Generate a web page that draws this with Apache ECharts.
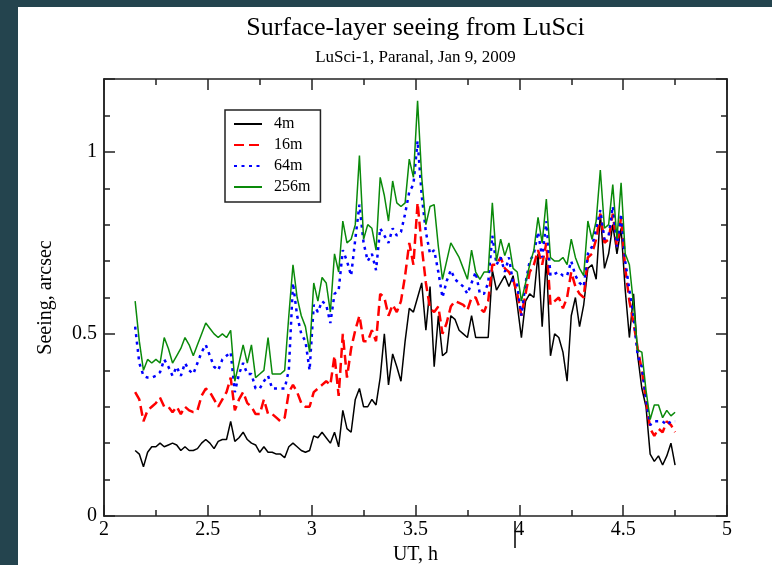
<!DOCTYPE html>
<html>
<head>
<meta charset="utf-8">
<title>Surface-layer seeing from LuSci</title>
<script src="https://cdn.jsdelivr.net/npm/echarts@6/dist/echarts.min.js"></script>
<style>
  html, body { margin: 0; padding: 0; width: 772px; height: 565px; background: #24444e; overflow: hidden; }
  #chart { position: absolute; left: 18px; top: 7px; width: 754px; height: 558px; background: #fff; }
</style>
</head>
<body>
<div id="chart"></div>
<script>
// UT time of each sample, h
const utHours = [
  2.15, 2.17, 2.19, 2.21, 2.23, 2.25, 2.27, 2.29, 2.31, 2.33,
  2.35, 2.37, 2.39, 2.41, 2.43, 2.45, 2.47, 2.49, 2.51, 2.53,
  2.55, 2.57, 2.59, 2.61, 2.63, 2.65, 2.67, 2.69, 2.71, 2.73,
  2.75, 2.77, 2.79, 2.81, 2.83, 2.85, 2.87, 2.89, 2.91, 2.93,
  2.95, 2.97, 2.99, 3.01, 3.03, 3.05, 3.07, 3.09, 3.11, 3.13,
  3.15, 3.17, 3.19, 3.21, 3.23, 3.25, 3.27, 3.29, 3.31, 3.33,
  3.35, 3.37, 3.39, 3.41, 3.43, 3.45, 3.47, 3.49, 3.51, 3.53,
  3.55, 3.57, 3.59, 3.61, 3.63, 3.65, 3.67, 3.69, 3.71, 3.73,
  3.75, 3.77, 3.79, 3.81, 3.83, 3.85, 3.87, 3.89, 3.91, 3.93,
  3.95, 3.97, 3.99, 4.01, 4.03, 4.05, 4.07, 4.09, 4.11, 4.13,
  4.15, 4.17, 4.19, 4.21, 4.23, 4.25, 4.27, 4.29, 4.31, 4.33,
  4.35, 4.37, 4.39, 4.41, 4.43, 4.45, 4.47, 4.49, 4.51, 4.53,
  4.55, 4.57, 4.59, 4.61, 4.63, 4.65, 4.67, 4.69, 4.71, 4.73,
  4.75
]

// seeing, arcsec
const seeing4m = [
  0.18, 0.17, 0.135, 0.175, 0.19, 0.19, 0.20, 0.19, 0.195, 0.20,
  0.195, 0.18, 0.19, 0.18, 0.18, 0.185, 0.20, 0.21, 0.20, 0.185,
  0.205, 0.21, 0.21, 0.26, 0.205, 0.215, 0.23, 0.21, 0.20, 0.195,
  0.175, 0.19, 0.175, 0.175, 0.17, 0.17, 0.16, 0.19, 0.20, 0.19,
  0.18, 0.175, 0.18, 0.22, 0.215, 0.23, 0.215, 0.20, 0.23, 0.19,
  0.29, 0.24, 0.23, 0.32, 0.35, 0.30, 0.30, 0.32, 0.305, 0.38,
  0.50, 0.36, 0.445, 0.41, 0.37, 0.48, 0.57, 0.56, 0.60, 0.64,
  0.51, 0.63, 0.41, 0.55, 0.44, 0.45, 0.55, 0.54, 0.51, 0.50,
  0.49, 0.55, 0.49, 0.49, 0.49, 0.49, 0.675, 0.62, 0.64, 0.66,
  0.63, 0.66, 0.58, 0.49, 0.59, 0.61, 0.60, 0.72, 0.52, 0.71,
  0.44, 0.50, 0.49, 0.45, 0.37, 0.55, 0.60, 0.52, 0.58, 0.68,
  0.69, 0.65, 0.83, 0.68, 0.72, 0.80, 0.72, 0.79, 0.62, 0.49,
  0.61, 0.44, 0.35, 0.30, 0.17, 0.15, 0.165, 0.14, 0.165, 0.20,
  0.14
]
const seeing16m = [
  0.34, 0.32, 0.26, 0.29, 0.30, 0.31, 0.325, 0.30, 0.30, 0.285,
  0.30, 0.28, 0.30, 0.29, 0.285, 0.29, 0.33, 0.35, 0.34, 0.32,
  0.30, 0.32, 0.34, 0.38, 0.29, 0.32, 0.34, 0.31, 0.30, 0.28,
  0.28, 0.32, 0.28, 0.28, 0.27, 0.26, 0.27, 0.34, 0.36, 0.34,
  0.31, 0.30, 0.30, 0.34, 0.35, 0.36, 0.37, 0.36, 0.44, 0.33,
  0.50, 0.38, 0.46, 0.51, 0.55, 0.48, 0.48, 0.51, 0.48, 0.61,
  0.60, 0.55, 0.58, 0.56, 0.59, 0.66, 0.75, 0.69, 0.86, 0.74,
  0.64, 0.57, 0.56, 0.575, 0.50, 0.53, 0.575, 0.59, 0.585, 0.58,
  0.565, 0.60, 0.60, 0.57, 0.56, 0.59, 0.69, 0.69, 0.71, 0.68,
  0.67, 0.65, 0.61, 0.55, 0.61, 0.67, 0.69, 0.73, 0.69, 0.75,
  0.58, 0.59, 0.60, 0.57, 0.60, 0.67, 0.63, 0.61, 0.60, 0.71,
  0.72, 0.76, 0.83, 0.75, 0.76, 0.83, 0.74, 0.82, 0.68, 0.59,
  0.53, 0.46, 0.40, 0.32, 0.24, 0.22, 0.24, 0.23, 0.26, 0.25,
  0.23
]
const seeing64m = [
  0.52, 0.42, 0.385, 0.38, 0.38, 0.385, 0.395, 0.43, 0.41, 0.385,
  0.41, 0.385, 0.42, 0.40, 0.39, 0.42, 0.45, 0.47, 0.44, 0.41,
  0.40, 0.43, 0.44, 0.45, 0.34, 0.39, 0.42, 0.39, 0.39, 0.35,
  0.35, 0.37, 0.385, 0.35, 0.35, 0.35, 0.35, 0.40, 0.64, 0.55,
  0.50, 0.48, 0.40, 0.58, 0.56, 0.59, 0.58, 0.53, 0.61, 0.62,
  0.73, 0.70, 0.66, 0.76, 0.855, 0.75, 0.70, 0.72, 0.675, 0.79,
  0.77, 0.75, 0.79, 0.77, 0.78, 0.83, 0.89, 0.91, 1.03, 0.88,
  0.78, 0.72, 0.73, 0.67, 0.60, 0.645, 0.675, 0.65, 0.64, 0.63,
  0.61, 0.64, 0.67, 0.61, 0.61, 0.64, 0.77, 0.69, 0.71, 0.67,
  0.71, 0.64, 0.635, 0.55, 0.64, 0.70, 0.72, 0.78, 0.71, 0.81,
  0.66, 0.665, 0.67, 0.66, 0.66, 0.70, 0.66, 0.64, 0.63, 0.72,
  0.74, 0.79, 0.84, 0.76, 0.77, 0.85, 0.74, 0.83, 0.70, 0.62,
  0.55, 0.44, 0.41, 0.32, 0.25, 0.26, 0.26, 0.26, 0.25, 0.26,
  0.26
]
const seeing256m = [
  0.59, 0.48, 0.40, 0.43, 0.42, 0.43, 0.42, 0.49, 0.46, 0.42,
  0.44, 0.46, 0.49, 0.47, 0.44, 0.47, 0.50, 0.53, 0.515, 0.50,
  0.49, 0.50, 0.49, 0.51, 0.37, 0.42, 0.47, 0.42, 0.47, 0.38,
  0.39, 0.40, 0.49, 0.39, 0.39, 0.39, 0.40, 0.55, 0.69, 0.60,
  0.55, 0.52, 0.45, 0.64, 0.59, 0.655, 0.64, 0.56, 0.72, 0.67,
  0.81, 0.75, 0.76, 0.80, 0.99, 0.76, 0.80, 0.79, 0.73, 0.93,
  0.88, 0.81, 0.92, 0.86, 0.85, 0.86, 0.98, 0.93, 1.14, 0.93,
  0.80, 0.85, 0.855, 0.74, 0.65, 0.70, 0.75, 0.73, 0.71, 0.68,
  0.65, 0.73, 0.67, 0.65, 0.67, 0.67, 0.86, 0.70, 0.76, 0.715,
  0.75, 0.68, 0.67, 0.59, 0.64, 0.69, 0.73, 0.82, 0.75, 0.87,
  0.71, 0.70, 0.70, 0.71, 0.69, 0.76, 0.71, 0.68, 0.66, 0.81,
  0.76, 0.81, 0.95, 0.79, 0.80, 0.91, 0.76, 0.915, 0.72, 0.69,
  0.58, 0.455, 0.45, 0.345, 0.265, 0.305, 0.305, 0.27, 0.29, 0.275,
  0.285
]

const serif = "'Liberation Serif', 'DejaVu Serif', 'Times New Roman', serif"
const frameColor = '#222'

function pairs (values) {
  return values.map((v, i) => [utHours[i], v])
}

// one axis of the frame; labelled only on the bottom/left major axes
function frameAxis (extra, tickLength, interval, minorSplit) {
  return Object.assign({
    type: 'value',
    interval: interval,
    axisLine: { show: true, onZero: false, lineStyle: { color: frameColor, width: 1.5 } },
    axisTick: { show: true, inside: true, length: tickLength, lineStyle: { color: frameColor, width: 1.5 } },
    minorTick: { show: !!minorSplit, splitNumber: minorSplit || 5, length: 6, lineStyle: { color: frameColor, width: 1.5 } },
    axisLabel: { show: false },
    splitLine: { show: false },
    minorSplitLine: { show: false }
  }, extra)
}

const chart = echarts.init(document.getElementById('chart'), null, { renderer: 'canvas' })

const option = {
  animation: false,
  backgroundColor: '#fff',
  grid: { left: 86, right: 45, top: 72, bottom: 49, containLabel: false, outerBoundsMode: 'none' },
  graphic: [
    {
      type: 'text', x: 397.5, y: 21,
      style: { text: 'Surface-layer seeing from LuSci', fill: '#000', font: '26px ' + serif, textAlign: 'center', textVerticalAlign: 'middle' }
    },
    {
      type: 'text', x: 397.5, y: 51,
      style: { text: 'LuSci-1, Paranal, Jan 9, 2009', fill: '#000', font: '17px ' + serif, textAlign: 'center', textVerticalAlign: 'middle' }
    },
    {
      type: 'line',
      shape: { x1: 497, y1: 514, x2: 497, y2: 541 },
      style: { stroke: '#000', lineWidth: 1.5 }
    }
  ],
  legend: {
    orient: 'vertical',
    left: 207,
    top: 103,
    padding: [6, 10, 7, 8],
    itemWidth: 28,
    itemHeight: 12,
    itemGap: 5,
    borderColor: frameColor,
    borderWidth: 1.5,
    backgroundColor: '#fff',
    selectedMode: false,
    itemStyle: { opacity: 0 },
    textStyle: { color: '#000', fontFamily: serif, fontSize: 16, lineHeight: 13, padding: [0, 0, 0, 7] },
    data: ['4m', '16m', '64m', '256m']
  },
  xAxis: [
    frameAxis({
      position: 'bottom', min: 2, max: 5,
      name: 'UT, h', nameLocation: 'middle', nameGap: 21,
      nameTextStyle: { color: '#000', fontFamily: serif, fontSize: 20 },
      axisLabel: { show: true, color: '#000', fontFamily: serif, fontSize: 20, margin: 4 }
    }, 11, 0.5, 2),
    frameAxis({ position: 'top', min: 2, max: 5 }, 11, 0.5, 2)
  ],
  yAxis: [
    frameAxis({
      position: 'left', min: 0, max: 1.2,
      name: 'Seeing, arcsec', nameLocation: 'middle', nameGap: 48,
      nameTextStyle: { color: '#000', fontFamily: serif, fontSize: 20 },
      axisLabel: {
        show: true, color: '#000', fontFamily: serif, fontSize: 20, margin: 7,
        formatter: v => (v > 1.1 ? '' : String(v))
      }
    }, 11, 0.5, 0),
    frameAxis({ position: 'left', min: 0, max: 1.2 }, 6, 0.1, 0),
    frameAxis({ position: 'right', min: 0, max: 1.2 }, 11, 0.5, 0),
    frameAxis({ position: 'right', min: 0, max: 1.2 }, 6, 0.1, 0)
  ],
  series: [
    {
      name: '4m', type: 'line', symbol: 'none', data: pairs(seeing4m),
      lineStyle: { color: '#000', width: 1.5 }, itemStyle: { color: '#000' }
    },
    {
      name: '16m', type: 'line', symbol: 'none', data: pairs(seeing16m),
      lineStyle: { color: '#ff0000', width: 2.5, type: [10, 5] }, itemStyle: { color: '#ff0000' }
    },
    {
      name: '64m', type: 'line', symbol: 'none', data: pairs(seeing64m),
      lineStyle: { color: '#0000ff', width: 2.5, type: [3, 4.5] }, itemStyle: { color: '#0000ff' }
    },
    {
      name: '256m', type: 'line', symbol: 'none', data: pairs(seeing256m),
      lineStyle: { color: '#0a8a0a', width: 1.5 }, itemStyle: { color: '#0a8a0a' }
    }
  ]
}

chart.setOption(option)
</script>
</body>
</html>
